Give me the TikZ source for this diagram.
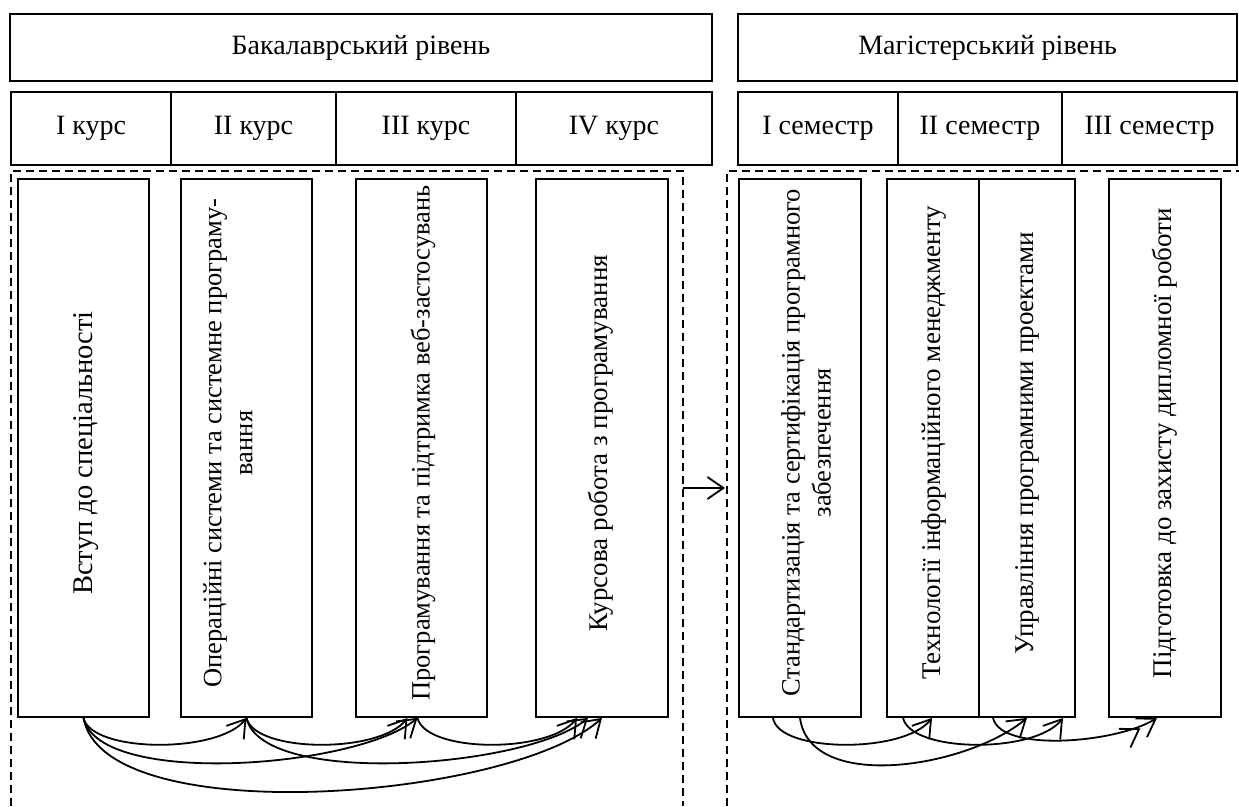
\documentclass[tikz,border=0pt]{standalone}
\usepackage{fontspec}
\setmainfont{Liberation Serif}
\usetikzlibrary{arrows.meta}
\begin{document}
\begin{tikzpicture}[x=1pt,y=-1pt,
  hbox/.style={draw, line width=1.8pt, rectangle, inner sep=0pt, font=\fontsize{28}{32}\selectfont},
  vbox/.style={draw, line width=1.8pt, rectangle, inner sep=0pt, minimum height=538pt},
  vtext/.style={rotate=90, align=center, inner sep=0pt, font=\fontsize{27}{31}\selectfont},
  region/.style={line width=1.4pt, dash pattern=on 8pt off 5pt},
  link/.style={line width=1.8pt, -{Straight Barb[length=17pt,width=22pt]}},
  dlink/.style={line width=1.8pt, -{Straight Barb[length=17pt,width=22pt]Straight Barb[length=17pt,width=22pt]}},
]
\useasboundingbox (0,0) rectangle (1239,806);

% headers
\node[hbox, minimum width=702pt, minimum height=67pt] (bh) at (361,47.5) {Бакалаврський рівень};
\node[hbox, minimum width=499pt, minimum height=67pt] (mh) at (987.5,47.5) {Магістерський рівень};

% course row
\node[hbox, minimum width=160pt, minimum height=73pt] (c1) at (91,128.5) {I курс};
\node[hbox, minimum width=165pt, minimum height=73pt] (c2) at (253.5,128.5) {II курс};
\node[hbox, minimum width=180pt, minimum height=73pt] (c3) at (426,128.5) {III курс};
\node[hbox, minimum width=196pt, minimum height=73pt] (c4) at (614,128.5) {IV курс};

\node[hbox, minimum width=160pt, minimum height=73pt] (s1) at (818,128.5) {I семестр};
\node[hbox, minimum width=164pt, minimum height=73pt] (s2) at (980,128.5) {II семестр};
\node[hbox, minimum width=175pt, minimum height=73pt] (s3) at (1149.5,128.5) {III семестр};

% dashed regions
\coordinate (rb1) at (11,806);
\coordinate (rb2) at (11,171);
\coordinate (rb3) at (683,171);
\coordinate (rb4) at (683,806);
\draw[region] (rb1) -- (rb2) -- (rb3) -- (rb4);
\coordinate (rm1) at (727,806);
\coordinate (rm2) at (727,171);
\coordinate (rm3) at (1239,171);
\draw[region] (rm1) -- (rm2) -- (rm3);

% vertical boxes
\node[vbox, minimum width=131pt] (b1) at (83.5,448) {};
\node[vbox, minimum width=131pt] (b2) at (246.5,448) {};
\node[vbox, minimum width=131pt] (b3) at (421.5,448) {};
\node[vbox, minimum width=132pt] (b4) at (602,448) {};
\node[vbox, minimum width=122pt] (m1) at (800,448) {};
\node[vbox, minimum width=92pt] (m2) at (933,448) {};
\node[vbox, minimum width=96pt] (m3) at (1027,448) {};
\node[vbox, minimum width=112pt] (m4) at (1165,448) {};

% texts
\node[vtext, font=\fontsize{28.5}{33}\selectfont] (t1) at (86,453) {Вступ до спеціальності};
\node[vtext, font=\fontsize{26.5}{31}\selectfont] (t2) at (228,443) {Операційні системи та системне програму-\\вання};
\node[vtext, font=\fontsize{26.5}{31}\selectfont] (t3) at (423,443) {Програмування та підтримка веб-застосувань};
\node[vtext] (t4) at (601,443) {Курсова робота з програмування};
\node[vtext, font=\fontsize{26.5}{31}\selectfont] (t5) at (806,443) {Стандартизація та сертифікація програмного\\забезпечення};
\node[vtext] (t6) at (934,443) {Технології інформаційного менеджменту};
\node[vtext] (t7) at (1027,443) {Управління програмними проектами};
\node[vtext] (t8) at (1165,443) {Підготовка до захисту дипломної роботи};

% transition arrow
\coordinate (a1) at (683,488);
\coordinate (a2) at (725,488);
\draw[line width=1.8pt, -{Straight Barb[length=16pt,width=22pt]}] (a1) -- (a2);

% bachelor arcs
\draw[link] (b1.south) .. controls +(8,35) and +(-28,36) .. (b2.south);
\draw[link] (b2.south) .. controls +(8,35) and +(-28,36) .. ([xshift=-14pt]b3.south);
\draw[link] ([xshift=-4pt]b3.south) .. controls +(8,35) and +(-28,36) .. ([xshift=-25pt]b4.south);
\draw[link] (b1.south) .. controls +(15,70) and +(-60,50) .. ([xshift=-4pt]b3.south);
\draw[link] (b2.south) .. controls +(15,70) and +(-60,50) .. ([xshift=-14pt]b4.south);
\draw[link] (b1.south) .. controls +(20,114) and +(-90,82) .. (b4.south);

% magister arcs
\draw[link] ([xshift=-27pt]m1.south) .. controls +(5,35) and +(-28,36) .. ([xshift=-1pt]m2.south);
\draw[link] (m1.south) .. controls +(10,75) and +(-60,50) .. (m3.south);
\draw[link] ([xshift=-30pt]m2.south) .. controls +(8,35) and +(-28,36) .. ([xshift=36pt]m3.south);
\draw[dlink] ([xshift=-34pt]m3.south) .. controls +(8,35) and +(-40,25) .. ([xshift=-8pt]m4.south);
\end{tikzpicture}
\end{document}
